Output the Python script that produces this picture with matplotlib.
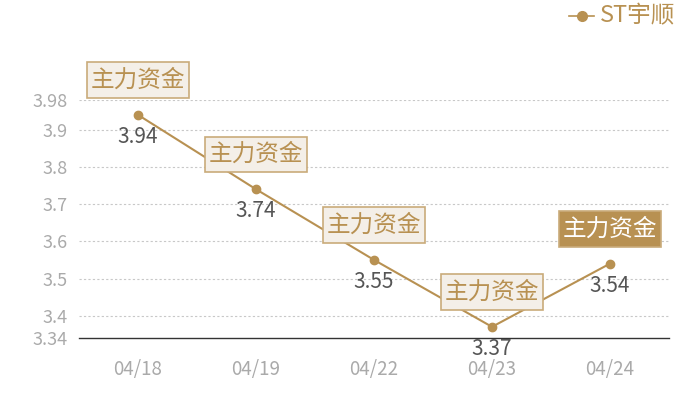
import matplotlib
matplotlib.use("Agg")
import matplotlib.pyplot as plt
from matplotlib.lines import Line2D
from matplotlib.path import Path

plt.rcParams['font.family'] = ['Noto Sans CJK SC', 'DejaVu Sans']

# data
dates = ["04/18", "04/19", "04/22", "04/23", "04/24"]
prices = [3.94, 3.74, 3.55, 3.37, 3.54]
yticks = [3.34, 3.4, 3.5, 3.6, 3.7, 3.8, 3.9, 3.98]
ytick_labels = ["3.34", "3.4", "3.5", "3.6", "3.7", "3.8", "3.9", "3.98"]
tag = "主力资金"
series_name = "ST宇顺"

gold = "#b89152"
grey = "#aaaaaa"


# box with more padding top/bottom than left/right
def tag_box(x0, y0, width, height, mutation_size):
    px, py = 0.17 * mutation_size, 0.27 * mutation_size
    x0, y0 = x0 - px, y0 - py
    x1, y1 = x0 + width + 2 * px, y0 + height + 2 * py
    return Path([(x0, y0), (x1, y0), (x1, y1), (x0, y1), (x0, y0)], closed=True)


fig = plt.figure(figsize=(7, 4), dpi=100)
ax = fig.add_axes([79 / 700, 1 - 338 / 400, 590 / 700, 238 / 400])

x = list(range(len(dates)))
ax.plot(x, prices, color=gold, lw=1.5, marker="o", ms=6, zorder=3)

ax.set_xlim(-0.5, len(dates) - 0.5)
ax.set_ylim(yticks[0], yticks[-1])
ax.set_yticks(yticks)
ax.set_yticklabels(ytick_labels)
ax.set_xticks(x)
ax.set_xticklabels(dates)
ax.tick_params(axis="both", length=0, colors=grey)
ax.tick_params(axis="y", pad=8, labelsize=13)
ax.tick_params(axis="x", pad=15, labelsize=13.5)

for y in yticks[1:]:
    ax.axhline(y, color="#c8c8c8", lw=0.8, ls=(0, (2, 2)), zorder=1)

for s in ["top", "right", "left"]:
    ax.spines[s].set_visible(False)
ax.spines["bottom"].set_color("#333333")
ax.spines["bottom"].set_linewidth(1)

for i, (xi, p) in enumerate(zip(x, prices)):
    ax.annotate(f"{p:.2f}", (xi, p), xytext=(0, -16), textcoords="offset points",
                ha="center", va="center", fontsize=15, color="#555555",
                annotation_clip=False, zorder=4)
    last = i == len(prices) - 1
    ax.annotate(tag, (xi, p), xytext=(0, 25), textcoords="offset points",
                ha="center", va="center", fontsize=17,
                color="white" if last else gold,
                bbox=dict(boxstyle=tag_box,
                          fc=gold if last else "#f4efe8",
                          ec="#c9ab7a", lw=1.2),
                annotation_clip=False, zorder=5)

# legend
fig.add_artist(Line2D([569 / 700, 594 / 700], [1 - 16 / 400] * 2, color=gold, lw=1.2))
fig.add_artist(Line2D([582 / 700], [1 - 16 / 400], color=gold, marker="o", ms=7))
fig.text(600 / 700, 1 - 16 / 400, series_name, color=gold, fontsize=17,
         ha="left", va="center")

fig.savefig("out.png", dpi=100)
